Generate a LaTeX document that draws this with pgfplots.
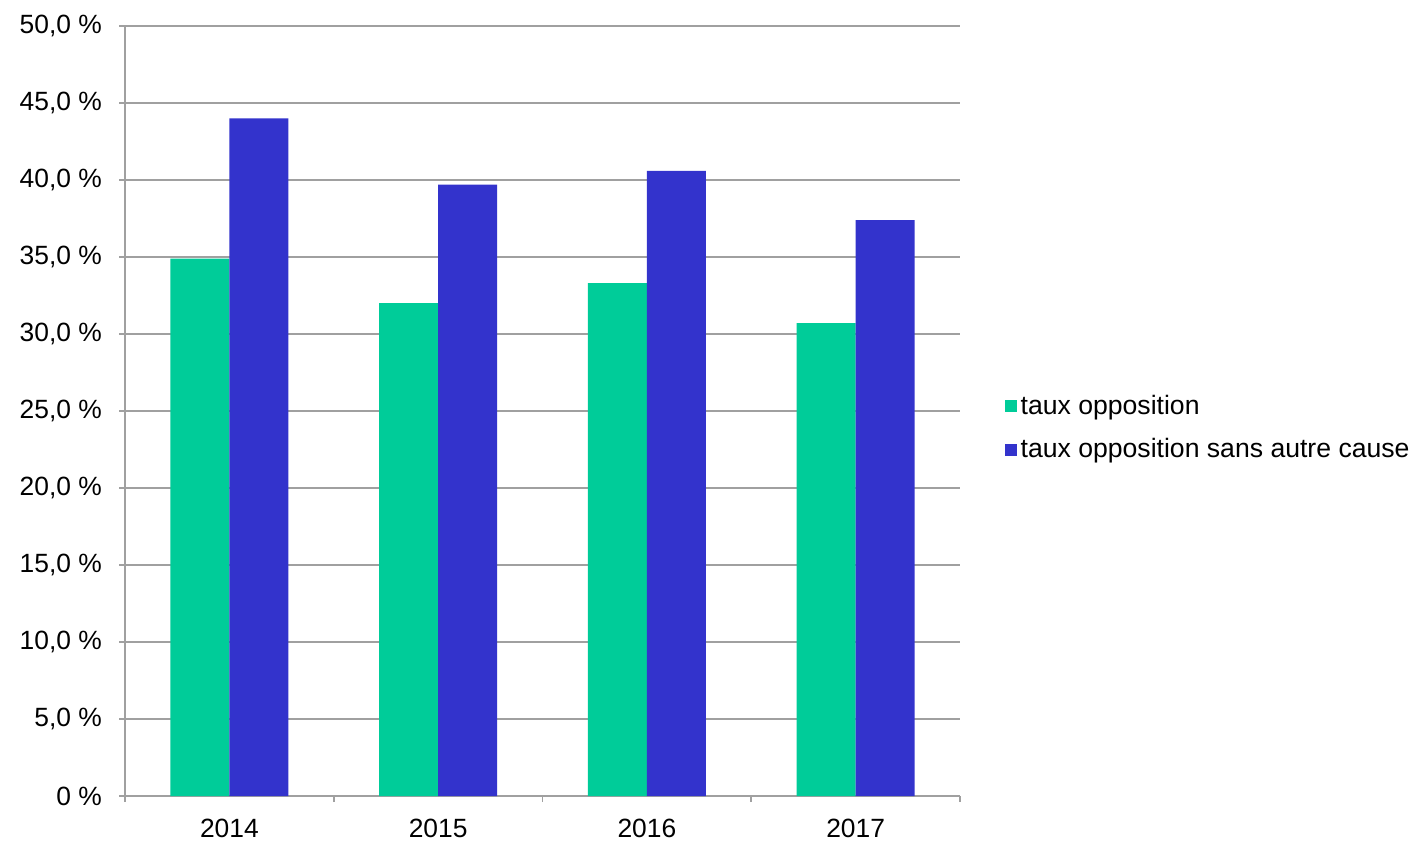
\documentclass[border=0pt]{standalone}
\usepackage{pgfplots}
\pgfplotsset{compat=1.18}
\usepackage{fontspec}
\setmainfont{Liberation Sans}
\definecolor{cgreen}{RGB}{0,204,153}
\definecolor{cblue}{RGB}{51,51,204}
\definecolor{cgrid}{RGB}{160,160,160}
\begin{document}
\begin{tikzpicture}
\useasboundingbox (0,0) rectangle (709pt,420.5pt);
\begin{axis}[
  at={(62.5pt,22.5pt)}, anchor=south west,
  scale only axis, width=417.5pt, height=385pt,
  xmin=-0.5, xmax=3.5, ymin=0, ymax=50,
  ybar=0pt, bar width=29.5pt,
  axis x line=bottom, axis y line=left,
  axis line style={cgrid,-, line width=0.8pt},
  ymajorgrids, grid style={cgrid, line width=0.8pt},
  ytick={0,5,...,50},
  yticklabels={0 \%,{5,0 \%},{10,0 \%},{15,0 \%},{20,0 \%},{25,0 \%},{30,0 \%},{35,0 \%},{40,0 \%},{45,0 \%},{50,0 \%}},
  xtick={0,1,2,3}, xticklabels={2014,2015,2016,2017},
  major x tick style={draw=none},
  minor xtick={-0.5,0.5,1.5,2.5,3.5},
  minor x tick style={cgrid, line width=0.8pt},
  minor tick length=3pt,
  major tick length=3pt,
  tick align=outside,
  y tick style={cgrid, line width=0.8pt},
  tick label style={font=\fontsize{13.2}{15}\selectfont, text=black},
  yticklabel style={xshift=-5pt},
  xticklabel style={yshift=-5pt},
  legend style={draw=none, at={(1.053,0.478)}, anchor=west,
    font=\fontsize{13.3}{15}\selectfont, row sep=6.5pt,
    legend cell align=left, inner sep=0pt,
    /tikz/every even column/.append style={column sep=1.5pt}},
  legend image code/.code={\fill[#1] (0pt,-3pt) rectangle (6pt,3pt);},
]
\addplot[fill=cgreen, draw=none] coordinates {(0,34.9) (1,32.0) (2,33.3) (3,30.7)};
\addplot[fill=cblue, draw=none] coordinates {(0,44.0) (1,39.7) (2,40.6) (3,37.4)};
\legend{taux opposition, taux opposition sans autre cause}
\end{axis}
\end{tikzpicture}
\end{document}
